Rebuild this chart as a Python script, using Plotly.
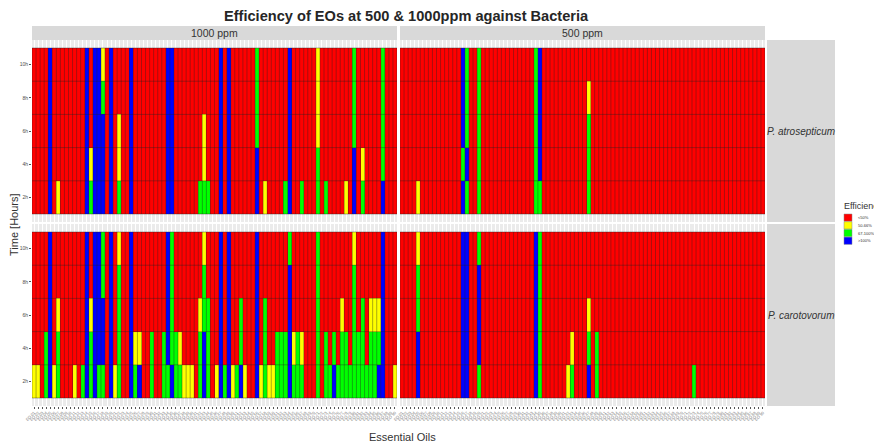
import plotly.graph_objects as go

# ---------------- data ----------------
# rows of each panel, top to bottom
times = ["10h", "8h", "6h", "4h", "2h"]
categories = ["<50%", "50-66%", "67-100%", ">100%"]
cat_colors = ["#FF0000", "#FFFF00", "#00FF00", "#0000FF"]
oils = ["EO %02d" % (i + 1) for i in range(90)]

# each entry = one essential oil; characters give the efficiency class
# (0:<50%, 1:50-66%, 2:67-100%, 3:>100%) for 10h, 8h, 6h, 4h, 2h
atro_1000 = [
    "00000", "00000", "00000", "00000", "33333", "00000", "00001", "00000", "00000", "00000",
    "00000", "00000", "00000", "33333", "00012", "33333", "33333", "12333", "00000", "33333",
    "00000", "00112", "00000", "00000", "33333", "00000", "00000", "00000", "00000", "00000",
    "00000", "00000", "00000", "33333", "33333", "00000", "00000", "00000", "00000", "00000",
    "00000", "00002", "00112", "00002", "00000", "00000", "33333", "00000", "33333", "00000",
    "00000", "00000", "00000", "00000", "00000", "22233", "00000", "00001", "00000", "00000",
    "00000", "00000", "00002", "33333", "00000", "00000", "00002", "00000", "00000", "00000",
    "11122", "00000", "00002", "00000", "00000", "00000", "00000", "00001", "00000", "22233",
    "00000", "00012", "00000", "00000", "00000", "00000", "22223", "00000", "00000", "00000",
]
atro_500 = [
    "00000", "00000", "00000", "00000", "00001", "00000", "00000", "00000", "00000", "00000",
    "00000", "00000", "00000", "00000", "00000", "33323", "22232", "00000", "00000", "22222",
    "00000", "00000", "00000", "00000", "00000", "00000", "00000", "00000", "00000", "00000",
    "00000", "00000", "00000", "22222", "33332", "00000", "00000", "00000", "00000", "00000",
    "00000", "00000", "00000", "00000", "00000", "00000", "01222", "00000", "00000", "00000",
    "00000", "00000", "00000", "00000", "00000", "00000", "00000", "00000", "00000", "00000",
    "00000", "00000", "00000", "00000", "00000", "00000", "00000", "00000", "00000", "00000",
    "00000", "00000", "00000", "00000", "00000", "00000", "00000", "00000", "00000", "00000",
    "00000", "00000", "00000", "00000", "00000", "00000", "00000", "00000", "00000", "00000",
]
caro_1000 = [
    "00001", "00001", "00000", "00022", "33333", "00001", "00122", "00000", "00000", "00000",
    "00001", "00000", "00002", "33333", "00122", "33333", "33332", "22332", "00000", "33333",
    "00001", "12222", "00000", "00000", "33333", "00012", "00013", "00000", "00000", "00022",
    "00000", "00000", "00022", "33332", "22223", "00022", "00012", "00001", "00001", "00001",
    "00000", "00122", "12233", "00222", "00000", "00001", "33333", "00002", "33333", "00001",
    "00002", "00223", "00001", "00000", "00000", "33333", "00001", "00222", "00001", "00001",
    "00022", "00022", "00022", "23333", "00012", "00022", "00012", "00000", "00000", "00000",
    "22222", "00000", "00022", "00002", "00023", "00002", "00122", "00022", "00002", "12222",
    "00022", "00222", "00002", "00122", "00122", "00123", "33333", "00000", "00000", "00001",
]
caro_500 = [
    "00000", "00000", "00000", "00000", "12233", "00000", "00000", "00000", "00000", "00000",
    "00000", "00000", "00000", "00000", "00000", "33333", "33333", "00000", "00000", "23332",
    "00000", "00000", "00000", "00000", "00000", "00000", "00000", "00000", "00000", "00000",
    "00000", "00000", "00000", "33333", "22222", "00000", "00000", "00000", "00000", "00000",
    "00000", "00001", "00012", "00000", "00000", "00000", "00123", "00000", "00022", "00000",
    "00000", "00000", "00000", "00000", "00000", "00000", "00000", "00000", "00000", "00000",
    "00000", "00000", "00000", "00000", "00000", "00000", "00000", "00000", "00000", "00000",
    "00000", "00000", "00002", "00000", "00000", "00000", "00000", "00000", "00000", "00000",
    "00000", "00000", "00000", "00000", "00000", "00000", "00000", "00000", "00000", "00000",
]

panels = [  # (data, axis suffix)
    (atro_1000, ""), (atro_500, "2"), (caro_1000, "3"), (caro_500, "4"),
]

# ---------------- layout helpers ----------------
# the page body adds an 8px margin, so the figure is drawn 8px in from the corner
OFF = 8
W, H = 882 - OFF, 446 - OFF


def px_x(p):
    return (p - OFF) / W


def px_y(p):
    return 1 - (p - OFF) / H


FONT = "Liberation Sans, Arial, sans-serif"
xL = [px_x(32), px_x(397)]
xR = [px_x(400), px_x(765)]
yT = [px_y(222), px_y(40)]
yB = [px_y(406), px_y(224)]
n_rows = len(times)
n_oils = len(oils)
row_px = 166 / n_rows
pad = 8 / row_px
yrange = [-0.5 - pad, n_rows - 0.5 + pad]
xrange = [-0.5, n_oils - 0.5]

# discrete colour scale
cs = []
n = len(categories)
for i, c in enumerate(cat_colors):
    cs.append([i / n, c])
    cs.append([(i + 1) / n, c])

# tile borders (between categories), in data coordinates
bx, by = [], []
for k in range(n_oils + 1):
    bx += [k - 0.5, k - 0.5, None]
    by += [-0.5, n_rows - 0.5, None]
for r in range(n_rows + 1):
    bx += [-0.5, n_oils - 0.5, None]
    by += [r - 0.5, r - 0.5, None]

fig = go.Figure()
for data, sfx in panels:
    # z rows from bottom (2h) to top (10h)
    z = [[int(col[n_rows - 1 - r]) for col in data] for r in range(n_rows)]
    fig.add_trace(go.Heatmap(
        z=z, x=list(range(n_oils)), y=list(range(n_rows)),
        colorscale=cs, zmin=-0.5, zmax=n - 0.5, showscale=False,
        hoverinfo="skip", xaxis="x" + sfx, yaxis="y" + sfx,
    ))
    fig.add_trace(go.Scatter(
        x=bx, y=by, mode="lines", line=dict(color="rgba(35,35,35,0.55)", width=0.7),
        hoverinfo="skip", xaxis="x" + sfx, yaxis="y" + sfx,
    ))

axis_common = dict(showgrid=True, gridcolor="white", gridwidth=0.6, zeroline=False,
                   showline=False, fixedrange=True, automargin=False)
tickfont = dict(family=FONT, size=4, color="#7a7a7a")

layout = dict(
    width=W, height=H, margin=dict(l=0, r=0, t=0, b=0, autoexpand=False),
    paper_bgcolor="white", plot_bgcolor="#EBEBEB", showlegend=False,
    font=dict(family=FONT, color="#333333"),
)
yticks = dict(tickmode="array", tickvals=list(range(n_rows)),
              ticktext=list(reversed(times)))
xticks = dict(tickmode="array", tickvals=list(range(n_oils)), ticktext=oils)
for sfx, xd, yd, show_x, show_y in [("", xL, yT, False, True), ("2", xR, yT, False, False),
                                    ("3", xL, yB, True, True), ("4", xR, yB, True, False)]:
    layout["xaxis" + sfx] = dict(domain=xd, range=xrange, anchor="y" + sfx,
                                 showticklabels=show_x, ticks="outside" if show_x else "",
                                 ticklen=2, tickcolor="#555555", tickwidth=0.5,
                                 tickangle=-45, tickfont=tickfont, **xticks, **axis_common)
    layout["yaxis" + sfx] = dict(domain=yd, range=yrange, anchor="x" + sfx,
                                 showticklabels=show_y, ticks="outside" if show_y else "",
                                 ticklen=2, tickcolor="#555555", tickwidth=0.5,
                                 tickfont=dict(family=FONT, size=5, color="#4D4D4D"),
                                 **yticks, **axis_common)

shapes = []
annotations = []
# top strips
for (x0, x1), label in [((32, 397), "1000 ppm"), ((400, 765), "500 ppm")]:
    shapes.append(dict(type="rect", xref="paper", yref="paper",
                       x0=px_x(x0), x1=px_x(x1), y0=px_y(40), y1=px_y(26),
                       fillcolor="#D9D9D9", line=dict(width=0)))
    annotations.append(dict(text=label, x=px_x((x0 + x1) / 2), y=px_y(33), xref="paper",
                            yref="paper", showarrow=False, xanchor="center", yanchor="middle",
                            font=dict(family=FONT, size=10.5, color="#333333")))
# right strips
for (y0, y1), label in [((40, 222), "P. atrosepticum"), ((224, 406), "P. carotovorum")]:
    shapes.append(dict(type="rect", xref="paper", yref="paper",
                       x0=px_x(767), x1=px_x(835), y0=px_y(y1), y1=px_y(y0),
                       fillcolor="#D9D9D9", line=dict(width=0)))
    annotations.append(dict(text="<i>%s</i>" % label, x=px_x(801), y=px_y((y0 + y1) / 2),
                            xref="paper", yref="paper", showarrow=False,
                            xanchor="center", yanchor="middle",
                            font=dict(family=FONT, size=10, color="#333333")))
# title & axis titles
annotations.append(dict(text="<b>Efficiency of EOs at 500 & 1000ppm against Bacteria</b>",
                        x=px_x(406), y=px_y(16), xref="paper", yref="paper", showarrow=False,
                        xanchor="center", yanchor="middle",
                        font=dict(family=FONT, size=14.6, color="#262626")))
annotations.append(dict(text="Essential Oils", x=px_x(402), y=px_y(437), xref="paper",
                        yref="paper", showarrow=False, xanchor="center", yanchor="middle",
                        font=dict(family=FONT, size=11, color="#333333")))
annotations.append(dict(text="Time [Hours]", x=px_x(14), y=px_y(225), xref="paper",
                        yref="paper", showarrow=False, xanchor="center", yanchor="middle",
                        textangle=-90, font=dict(family=FONT, size=11, color="#333333")))
# legend
annotations.append(dict(text="Efficiency", x=px_x(842), y=px_y(206), xref="paper",
                        yref="paper", showarrow=False, xanchor="left", yanchor="middle",
                        font=dict(family=FONT, size=9, color="#333333")))
for i, (lab, col) in enumerate(zip(categories, cat_colors)):
    top = 214 + i * 7.7
    shapes.append(dict(type="rect", xref="paper", yref="paper",
                       x0=px_x(844), x1=px_x(852), y0=px_y(top + 7.3), y1=px_y(top),
                       fillcolor=col, line=dict(width=0.5, color="#888888")))
    annotations.append(dict(text=lab, x=px_x(856), y=px_y(top + 3.8), xref="paper",
                            yref="paper", showarrow=False, xanchor="left", yanchor="middle",
                            font=dict(family=FONT, size=4, color="#333333")))

layout["shapes"] = shapes
layout["annotations"] = annotations
fig.update_layout(**layout)
fig.write_html("out.html")
